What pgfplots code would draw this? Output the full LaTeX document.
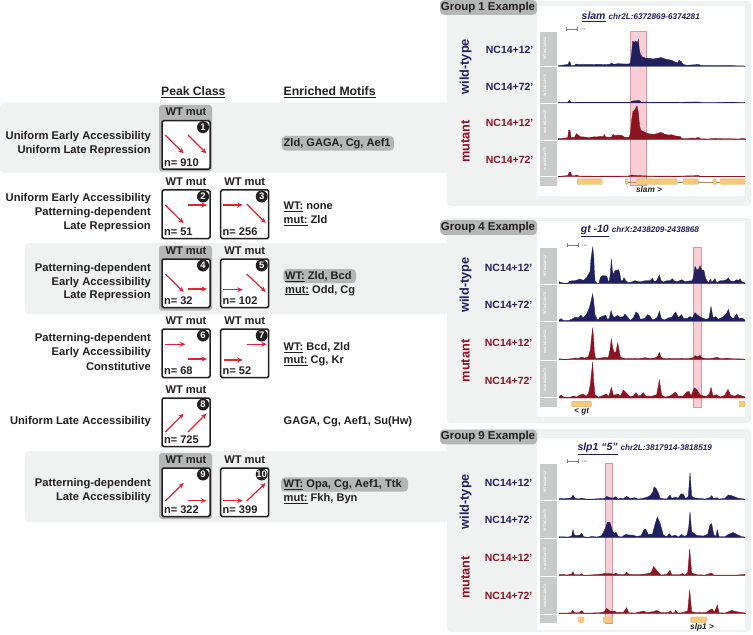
\documentclass[border=0pt]{standalone}
\usepackage{pgfplots}
\pgfplotsset{compat=1.18}
\usepackage{fontspec}
\setmainfont{Liberation Sans}
\usetikzlibrary{arrows.meta}

\definecolor{band}{HTML}{F0F1F1}
\definecolor{pill}{HTML}{B5B6B6}
\definecolor{strip}{HTML}{C9CACA}
\definecolor{navy}{HTML}{20205E}
\definecolor{maroon}{HTML}{8C1420}
\definecolor{hlfill}{HTML}{F9CFD7}
\definecolor{hldraw}{HTML}{E8929C}
\definecolor{gene}{HTML}{F9C878}
\definecolor{arrowred}{HTML}{E1242F}
\definecolor{ink}{HTML}{231F20}

\newcommand{\fs}[1]{\fontsize{#1}{#1}\selectfont}
\newcommand{\lab}[3]{\node[anchor=east,inner sep=0pt,text=ink] at (#1,#2) {\fs{11.25}\bfseries #3};}
\newcommand{\mot}[3]{\node[anchor=west,inner sep=0pt,text=ink] at (#1,#2) {\fs{11.1}\bfseries #3};}

% one peak class box: left, top, number, count, arrows
\newcommand{\pclass}[5]{%
  \begin{scope}[shift={(#1,#2)}]
    \node[text=ink,inner sep=0pt] at (24,-8.5) {\fs{11.2}\bfseries WT mut};
    \draw[ink,line width=1.5bp,fill=white,rounded corners=1.5bp] (0,0) rectangle (48,48.5);
    \fill[ink] (41,6.5) circle (6);
    \node[text=white,inner sep=0pt] at (41,6.5) {\fs{9.5}\bfseries #3};
    \node[anchor=west,text=ink,inner sep=0pt] at (1.8,41.5) {\fs{11.1}\bfseries n= #4};
    #5
  \end{scope}}
\newcommand{\arr}[4]{\draw[arrowred,line width=1.2bp,-{Stealth[length=5.5bp,width=5bp]}] (#1,#2) -- (#3,#4);}

% genomic browser panel pieces
\newcommand{\panel}[4]{\fill[band,rounded corners=4bp] (447,#1) rectangle (751,#2);
  \fill[white] (537,#3) rectangle (745,#4);}
\newcommand{\grp}[2]{\fill[pill,rounded corners=4bp] (440,#1) rectangle (537,#1+14.8);
  \node[text=ink,inner sep=0pt] at (488,#1+7.4) {\fs{11.5}\bfseries Group #2 Example};}
\newcommand{\names}[6]{%
  \node[rotate=90,text=navy,inner sep=0pt] at (465.5,#2) {\fs{12.8}\bfseries wild-type};
  \node[rotate=90,text=maroon,inner sep=0pt] at (465.5,#3) {\fs{12.8}\bfseries mutant};
  \node[anchor=west,text=navy,inner sep=0pt] at (#1,#4-18.5) {\fs{10.5}\bfseries NC14+12’};
  \node[anchor=west,text=navy,inner sep=0pt] at (#1,#4+19) {\fs{10.5}\bfseries NC14+72’};
  \node[anchor=west,text=maroon,inner sep=0pt] at (#1,#5) {\fs{10.5}\bfseries NC14+12’};
  \node[anchor=west,text=maroon,inner sep=0pt] at (#1,#6) {\fs{10.5}\bfseries NC14+72’};}
\newcommand{\strip}[6]{% left-right from 540, top, four track baselines, bottom
  \fill[strip] (540,#1) rectangle (557,#6);
  \draw[white,line width=0.5bp] (540,#2) -- (557,#2) (540,#3) -- (557,#3) (540,#4) -- (557,#4) (540,#5) -- (557,#5);
  \node[rotate=90,text=white,inner sep=0pt] at (545,#2-18) {\fs{3.6}\bfseries WT NC14+12};
  \node[rotate=90,text=white,inner sep=0pt] at (545,#3-18) {\fs{3.6}\bfseries WT NC14+72};
  \node[rotate=90,text=white,inner sep=0pt] at (545,#4-18) {\fs{3.6}\bfseries mut NC14+12};
  \node[rotate=90,text=white,inner sep=0pt] at (545,#5-18) {\fs{3.6}\bfseries mut NC14+72};}
\newcommand{\gn}[3]{\draw[gene!85!black,line width=0.3bp,fill=gene,rounded corners=1bp] (#1,#3-2.8) rectangle (#2,#3+2.8);}
\newcommand{\sbar}[2]{\draw[gray,line width=0.5bp,|-|] (#1,#2) -- (#1+11.5,#2);
  \node[anchor=west,text=gray,inner sep=0pt] at (#1+14,#2) {\fs{3}1 kb};}
\newcommand{\hl}[4]{\draw[hldraw,line width=0.6bp,fill=hlfill] (#1,#3) rectangle (#2,#4);}

% one browser track: baseline in image pixels, colour, points.
% x and height were read at 3x: 3 units = 1 pixel, x counted from pixel 555
\newcommand{\track}[3]{%
  \begin{axis}[at={(555bp,-#1bp)},anchor=south west,hide axis,scale only axis,
      width=198bp,height=40bp,xmin=0,xmax=594,ymin=0,ymax=120,clip=false]
    \addplot[fill=#2,draw=#2,line width=0.35bp,sharp plot] coordinates {#3} \closedcycle;
  \end{axis}}

\begin{document}
\begin{tikzpicture}
\begin{scope}[x=1bp,y=-1bp]
\useasboundingbox (0,0) rectangle (753,635);
\fill[white] (0,0) rectangle (753,635);

% background bands and panels
\fill[band,rounded corners=4bp] (0,102.7) rectangle (460,173);
\fill[band,rounded corners=4bp] (25,243) rectangle (460,314);
\fill[band,rounded corners=4bp] (25,451) rectangle (460,522);
\panel{1}{206}{6}{196}
\panel{218}{423}{221}{417}
\panel{429}{632}{438}{630}
\grp{0}{1}
\grp{220}{4}
\grp{429.5}{9}

% left hand table
\node[anchor=west,inner sep=0pt,text=ink] at (161,92.3) {\fs{12.2}\bfseries\underline{Peak Class}};
\node[anchor=west,inner sep=0pt,text=ink] at (283.5,92.3) {\fs{12.3}\bfseries\underline{Enriched Motifs}};

\fill[pill,rounded corners=3bp] (159,105) rectangle (212,171.5);
\fill[pill,rounded corners=3bp] (159,245.7) rectangle (212,310.7);
\fill[pill,rounded corners=3bp] (159,453) rectangle (212,519);

\lab{151}{136.7}{Uniform Early Accessibility}
\lab{151}{150.7}{Uniform Late Repression}
\lab{151}{199}{Uniform Early Accessibility}
\lab{151}{213}{Patterning-dependent}
\lab{151}{226.7}{Late Repression}
\lab{151}{268.7}{Patterning-dependent}
\lab{151}{282.3}{Early Accessibility}
\lab{151}{296}{Late Repression}
\lab{151}{338.3}{Patterning-dependent}
\lab{151}{352.3}{Early Accessibility}
\lab{151}{366}{Constitutive}
\lab{151}{421.3}{Uniform Late Accessibility}
\lab{151}{484}{Patterning-dependent}
\lab{151}{498}{Late Accessibility}

\pclass{162}{120.7}{1}{910}{\arr{3.3}{14.3}{21.7}{32.7}\arr{26}{14.3}{44.3}{32.7}}
\pclass{162}{190}{2}{51}{\arr{3.3}{15}{21.7}{33.3}\arr{26}{15}{45}{15}}
\pclass{220.7}{190}{3}{256}{\arr{2.7}{15}{22}{15}\arr{26}{14}{45}{33}}
\pclass{162}{259}{4}{32}{\arr{3.3}{15}{21.7}{33}\arr{26}{30}{45}{30}}
\pclass{220.7}{259}{5}{102}{\arr{2.7}{30.7}{22}{30.7}\arr{26}{15}{45}{33}}
\pclass{162}{329}{6}{68}{\arr{3.3}{15.3}{23.3}{15.3}\arr{26}{30}{45}{30}}
\pclass{220.7}{329}{7}{52}{\arr{3.3}{31}{22}{31}\arr{26}{15.3}{46}{15.3}}
\pclass{162}{398}{8}{725}{\arr{3.3}{34}{21.7}{15.7}\arr{26}{34}{44.3}{15.7}}
\pclass{162}{468}{9}{322}{\arr{3.3}{33}{21.7}{15}\arr{26}{32.7}{44.3}{32.7}}
\pclass{220.7}{468}{10}{399}{\arr{2.7}{32.7}{22}{32.7}\arr{26}{33}{45}{15}}

\fill[pill,rounded corners=4bp] (281.7,136) rectangle (394,150.7);
\fill[pill,rounded corners=4bp] (283.3,269) rectangle (356,283);
\fill[pill,rounded corners=4bp] (281,477.3) rectangle (408,491.7);
\mot{283.5}{143.3}{Zld, GAGA, Cg, Aef1}
\mot{283.5}{206.7}{\underline{WT:} none}
\mot{283.5}{220.7}{\underline{mut:} Zld}
\mot{285}{276.3}{\underline{WT:} Zld, Bcd}
\mot{285}{290.3}{\underline{mut:} Odd, Cg}
\mot{283.5}{347.3}{\underline{WT:} Bcd, Zld}
\mot{283.5}{361.3}{\underline{mut:} Cg, Kr}
\mot{283.5}{421.7}{GAGA, Cg, Aef1, Su(Hw)}
\mot{283.5}{484.5}{\underline{WT:} Opa, Cg, Aef1, Ttk}
\mot{283.5}{498.7}{\underline{mut:} Fkh, Byn}

% group 1 panel
\node[anchor=west,text=navy,inner sep=0pt] at (581.5,16.7) {\fs{10.5}\bfseries\itshape\underline{slam}\hspace{3bp}\fs{8.2}chr2L:6372869-6374281};
\names{485.7}{66.7}{141.7}{68}{123.3}{160}
\strip{31.7}{66.7}{103.3}{140}{176.7}{185.7}
\sbar{565.7}{29}
\hl{630.3}{646.3}{31}{185}
\draw[gene!70!black,line width=0.3bp] (627,181.7) -- (636,181.7) (677,181.7) -- (745,181.7);
\gn{577.3}{602.3}{181.7}
\gn{625.3}{627.7}{181.7}
\gn{636.7}{657.5}{181.7}
\gn{657.5}{677.3}{181.7}
\gn{683}{696}{181.7}
\gn{696}{698.5}{181.7}
\gn{713}{716}{181.7}
\gn{720}{745}{181.7}
\node[text=ink,inner sep=0pt] at (649,190) {\fs{8.3}\bfseries\itshape slam >};

% group 4 panel
\node[anchor=west,text=navy,inner sep=0pt] at (580.7,231) {\fs{10.5}\bfseries\itshape\underline{gt -10}\hspace{3bp}\fs{8.2}chrX:2438209-2438868};
\names{484.7}{285}{361}{286}{343.3}{380.7}
\strip{247.7}{284}{321.7}{360}{397.7}{407.3}
\sbar{567.3}{245}
\hl{693.3}{701.7}{247.3}{407.3}
\gn{571.7}{591.7}{404}
\gn{739}{745}{404}
\node[text=ink,inner sep=0pt] at (581.7,411.5) {\fs{8.3}\bfseries\itshape < gt};

% group 9 panel
\node[anchor=west,text=navy,inner sep=0pt] at (577.3,449) {\fs{10.5}\bfseries\itshape\underline{slp1 “5”}\hspace{3bp}\fs{8.2}chr2L:3817914-3818519};
\names{484.7}{501.7}{577.7}{501}{558.3}{595.7}
\strip{464.3}{500}{538.3}{576.7}{614.3}{623.3}
\sbar{567.3}{461}
\hl{605.3}{612.7}{463.3}{623.7}
\gn{578.3}{584}{619.7}
\gn{603.3}{612.7}{619.7}
\gn{690.7}{706.7}{619.7}
\node[text=ink,inner sep=0pt] at (702,627) {\fs{8.3}\bfseries\itshape slp1 >};
\end{scope}

% group 1 tracks
\track{66.3}{navy}{(10,2)(35,5)(40,5)(42,14)(45,13)(48,3)(60,3)(63,7)(70,5)(85,5)(110,5)(130,6)(150,5)(165,6)(170,10)(175,6)(190,8)(205,7)(222,7)(226,10)(230,40)(233,75)(238,72)(242,76)(247,70)(250,80)(253,50)(256,35)(262,28)(270,25)(280,24)(295,22)(305,24)(318,26)(330,22)(340,20)(350,18)(362,12)(368,10)(372,18)(378,15)(384,6)(395,3)(410,4)(425,5)(432,5)(440,2)(470,2)(500,2)(530,2)(570,1)}
\track{103}{navy}{(10,1)(38,1.5)(43,8)(48,1.5)(80,2)(130,2)(200,2)(226,2)(232,6)(245,7)(252,8)(258,3)(290,2)(370,2)(415,3)(430,3)(445,1)(530,2)(570,1)}
\track{139.7}{maroon}{(10,3)(30,5)(38,6)(41,28)(45,28)(48,7)(55,6)(60,9)(64,18)(70,14)(75,9)(90,8)(100,6)(120,9)(125,8)(135,10)(145,9)(148,16)(152,8)(160,7)(170,8)(174,16)(180,12)(190,14)(200,13)(210,7)(222,7)(226,18)(230,60)(234,85)(240,90)(246,102)(250,80)(254,40)(258,28)(270,22)(280,18)(295,16)(305,18)(318,22)(328,17)(340,14)(350,15)(362,11)(375,10)(380,4)(395,3)(410,5)(420,4)(430,7)(436,3)(460,2)(480,4)(500,3)(530,3)(550,2)(565,4)(572,2)}
\track{176.7}{maroon}{(10,1)(35,3)(40,5)(42,13)(47,13)(50,3)(60,3)(65,5)(72,2)(120,1.5)(220,2)(230,5)(240,4)(260,3)(280,2)(360,1.5)(420,3)(428,4)(435,1.5)(570,1)}

% group 4 tracks
\track{283.7}{navy}{(12,6)(20,3)(30,1)(40,2)(43,8)(60,9)(75,14)(85,10)(95,18)(100,28)(105,36)(108,75)(113,109)(116,85)(118,36)(120,9)(125,2)(132,2)(136,18)(142,24)(150,24)(156,21)(160,6)(163,9)(166,30)(169,74)(172,40)(176,27)(180,39)(190,42)(194,33)(198,9)(203,9)(207,18)(212,9)(220,3)(230,5)(240,9)(250,6)(260,6)(270,9)(280,9)(285,9)(292,16)(298,6)(305,9)(313,26)(318,9)(325,5)(335,9)(345,9)(352,15)(358,8)(368,6)(380,12)(390,6)(400,8)(412,9)(416,24)(420,52)(425,42)(430,42)(435,54)(440,42)(447,39)(452,15)(460,3)(467,14)(470,3)(480,15)(485,3)(495,9)(505,9)(515,12)(520,18)(525,9)(535,6)(545,12)(550,9)(555,15)(560,6)(570,2)}
\track{321.3}{navy}{(12,3)(18,8)(25,2)(40,2)(50,6)(60,12)(70,11)(78,18)(85,10)(95,22)(103,40)(108,60)(113,82)(116,60)(120,20)(128,3)(135,12)(145,16)(152,18)(158,5)(163,10)(168,32)(174,14)(180,12)(187,18)(195,12)(205,14)(210,22)(218,12)(226,3)(235,10)(243,28)(250,22)(256,6)(268,8)(278,20)(285,16)(292,4)(300,7)(307,12)(313,30)(319,8)(328,4)(340,10)(350,12)(362,28)(370,10)(380,20)(386,8)(395,8)(405,14)(412,10)(420,26)(428,18)(438,12)(446,8)(456,6)(462,10)(468,44)(474,10)(482,14)(490,6)(505,14)(515,24)(520,36)(526,14)(535,8)(545,22)(552,8)(562,10)(570,3)}
\track{359.7}{maroon}{(12,3)(30,1)(50,3)(60,5)(70,4)(82,8)(88,4)(100,9)(106,30)(110,70)(113,96)(116,60)(118,20)(122,3)(135,5)(150,7)(160,6)(165,30)(169,62)(173,36)(178,20)(183,24)(188,50)(192,30)(196,8)(205,4)(225,3)(240,4)(250,3)(270,6)(285,4)(300,5)(308,10)(313,22)(318,8)(325,3)(345,4)(355,3)(380,4)(400,3)(415,6)(420,12)(428,9)(435,13)(440,6)(455,3)(470,4)(485,7)(500,3)(515,5)(530,3)(570,2)}
\track{398}{maroon}{(12,3)(18,9)(25,3)(45,2)(55,6)(65,3)(78,10)(85,12)(93,5)(100,12)(106,40)(110,80)(113,108)(116,50)(120,10)(130,2)(145,8)(155,12)(160,4)(165,16)(169,32)(175,8)(190,12)(196,5)(205,24)(215,14)(225,4)(235,6)(243,16)(250,6)(258,8)(265,16)(272,6)(290,5)(305,10)(313,54)(320,8)(330,3)(345,6)(362,18)(370,5)(385,6)(395,18)(402,20)(408,6)(418,30)(425,26)(435,10)(445,6)(455,5)(463,12)(468,32)(474,6)(484,10)(495,3)(510,8)(519,26)(527,8)(540,6)(548,10)(556,8)(570,3)}

% group 9 tracks
\track{499.7}{navy}{(12,3)(40,4)(50,6)(54,14)(60,5)(70,2)(80,5)(88,3)(100,1)(130,3)(150,4)(155,10)(165,6)(175,5)(182,9)(190,2)(197,5)(205,3)(215,10)(225,4)(240,6)(250,2)(262,4)(275,7)(285,12)(293,22)(297,38)(303,34)(310,20)(316,4)(335,2)(345,14)(350,4)(360,7)(370,5)(378,18)(385,16)(392,3)(400,10)(405,82)(410,10)(420,5)(435,4)(450,2)(465,6)(470,12)(476,3)(486,6)(492,2)(510,4)(520,14)(530,12)(540,8)(550,4)(570,2)}
\track{537.7}{navy}{(12,3)(40,2)(50,5)(54,24)(58,8)(65,6)(75,8)(80,14)(86,3)(100,1)(110,4)(125,2)(140,6)(150,26)(157,46)(165,46)(172,22)(178,12)(183,16)(190,4)(200,2)(212,10)(222,8)(232,8)(245,4)(258,6)(267,24)(272,26)(280,10)(292,10)(300,40)(307,62)(315,44)(325,8)(335,3)(343,12)(350,4)(360,8)(370,2)(380,10)(388,3)(396,8)(401,30)(405,78)(410,18)(425,7)(445,5)(458,10)(465,38)(470,42)(476,10)(482,3)(487,24)(492,3)(510,3)(520,10)(535,16)(545,10)(560,3)(570,2)}
\track{575.7}{maroon}{(12,3)(25,4)(35,2)(50,5)(54,12)(58,3)(75,3)(80,6)(85,2)(105,2)(140,5)(150,7)(165,6)(178,5)(182,8)(190,3)(210,4)(215,10)(222,4)(245,3)(270,5)(287,8)(293,20)(296,28)(303,18)(312,8)(318,2)(335,4)(345,16)(350,3)(375,3)(382,7)(388,2)(398,8)(404,80)(410,8)(425,3)(450,2)(470,8)(476,2)(500,2)(520,2)(545,2)(570,4)}
\track{613.7}{maroon}{(12,2)(35,2)(48,3)(53,10)(58,3)(72,3)(80,9)(86,2)(105,2)(135,3)(148,6)(155,16)(165,8)(178,8)(185,4)(205,4)(215,18)(221,3)(240,2)(265,8)(275,4)(295,6)(305,10)(318,3)(340,4)(346,9)(352,2)(358,3)(362,10)(368,2)(380,3)(398,8)(404,72)(410,6)(425,3)(455,4)(465,12)(472,14)(478,4)(487,26)(492,3)(510,2)(530,10)(545,6)(565,3)(572,2)}
\end{tikzpicture}
\end{document}
